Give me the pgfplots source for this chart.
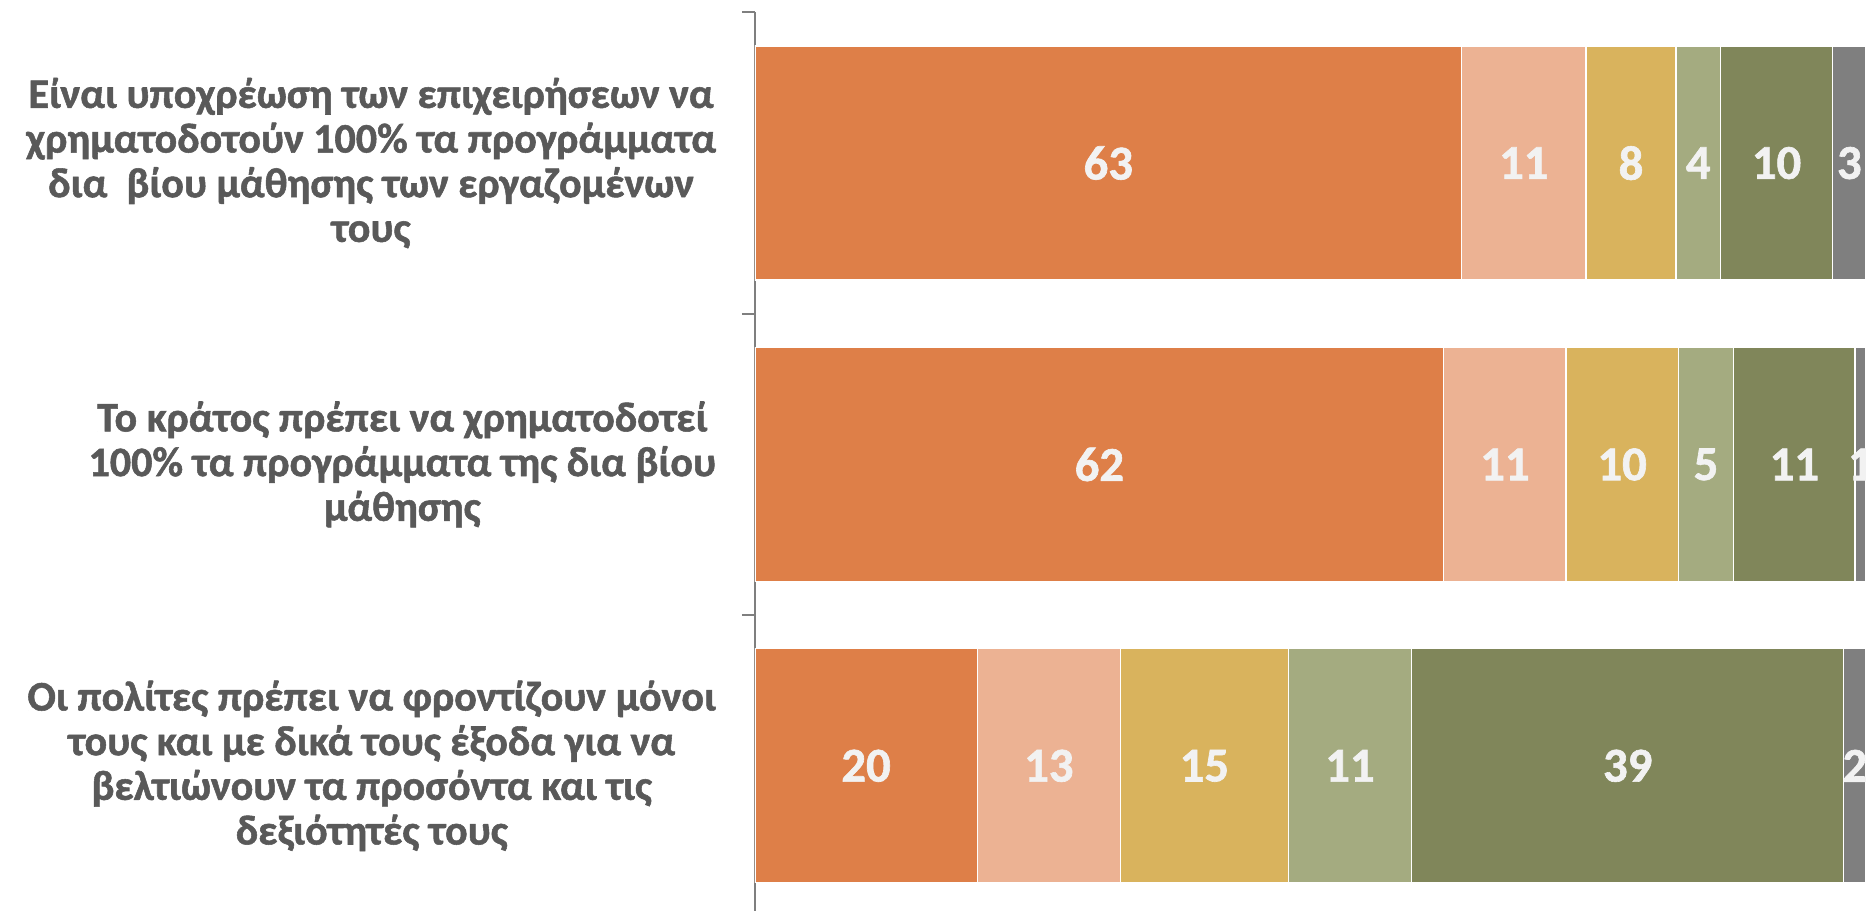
\documentclass[border=0pt]{standalone}
\usepackage{pgfplots}
\pgfplotsset{compat=1.18}
\usepackage{fontspec}
\setmainfont{Carlito}[BoldFeatures={FakeBold=1.3}]
\definecolor{c1}{HTML}{DE7F48}
\definecolor{c2}{HTML}{ECB293}
\definecolor{c3}{HTML}{D9B35D}
\definecolor{c4}{HTML}{A4AB80}
\definecolor{c5}{HTML}{80865A}
\definecolor{c6}{HTML}{7F7F7F}
\definecolor{txt}{HTML}{595959}
\begin{document}
\begin{tikzpicture}
\begin{axis}[
  scale only axis, width=333.3pt, height=269.6pt,
  xbar stacked, bar width=70.2pt,
  xmin=0, xmax=100, ymin=-0.5, ymax=2.482, y dir=reverse,
  axis x line=none, axis y line*=left,
  ytick={0,1,2},
  yticklabels={{Είναι υποχρέωση των επιχειρήσεων να\\χρηματοδοτούν 100\% τα προγράμματα\\δια\ \ βίου μάθησης των εργαζομένων\\τους},
               {Το κράτος πρέπει να χρηματοδοτεί\\100\% τα προγράμματα της δια βίου\\μάθησης},
               {Οι πολίτες πρέπει να φροντίζουν μόνοι\\τους και με δικά τους έξοδα για να\\βελτιώνουν τα προσόντα και τις\\δεξιότητές τους}},
  major tick length=0pt,
  minor ytick={-0.5,0.5,1.5}, minor tick length=3.9pt, tick align=outside,
  y axis line style={draw=c6, line width=0.6pt},
  every tick/.style={draw=c6, line width=0.6pt},
  yticklabel style={align=center, font=\bfseries\fontsize{12.6}{13.4}\selectfont, text=txt, inner sep=0pt, xshift=-11.5pt},
  point meta=explicit symbolic,
  nodes near coords,
  every node near coord/.append style={font=\bfseries\fontsize{14.6}{14.6}\selectfont, text=white!95!black, anchor=center},
]
\addplot[fill=c1, draw=white, line width=0.4pt] coordinates {(63.6,0) [63] (62.0,1) [62] (20.0,2) [20]};
\addplot[fill=c2, draw=white, line width=0.4pt] coordinates {(11.2,0) [11] (11.0,1) [11] (12.9,2) [13]};
\addplot[fill=c3, draw=white, line width=0.4pt] coordinates {(8.1,0) [8] (10.1,1) [10] (15.1,2) [15]};
\addplot[fill=c4, draw=white, line width=0.4pt] coordinates {(4.0,0) [4] (5.0,1) [5] (11.1,2) [11]};
\addplot[fill=c5, draw=white, line width=0.4pt] coordinates {(10.1,0) [10] (10.9,1) [11] (38.9,2) [39]};
\addplot[fill=c6, draw=white, line width=0.4pt] coordinates {(3.0,0) [3] (1.0,1) [1] (2.0,2) [2]};
\end{axis}
\pgfresetboundingbox
\path (current axis.south east) rectangle ([xshift=-226.5pt,yshift=3.72pt]current axis.north west);
\end{tikzpicture}
\end{document}
